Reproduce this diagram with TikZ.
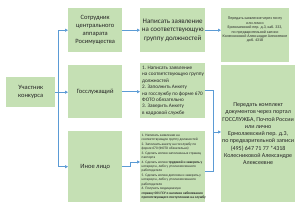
\documentclass[tikz,border=0pt]{standalone}
\usepackage{fontspec}
\setmainfont{Carlito}
\usetikzlibrary{arrows.meta}
\definecolor{boxg}{HTML}{C5E0B4}
\definecolor{lineb}{HTML}{5B9BD5}
\definecolor{txt}{HTML}{262626}
\tikzset{
  box/.style={fill=boxg, draw=none, inner sep=1pt, anchor=north west, text=txt, align=center},
  listtext/.style={text=txt, align=left, inner sep=0pt, anchor=west},
  conn/.style={draw=lineb, line width=0.6pt, -{Triangle[length=3pt,width=3pt]}},
  plain/.style={draw=lineb, line width=0.6pt},
}
\begin{document}
\begin{tikzpicture}[x=1pt,y=-1pt]
\useasboundingbox[fill=white] (0,0) rectangle (300,211);
% column 1
\node[box, minimum width=49pt, minimum height=30pt, font=\fontsize{6.5}{8}\selectfont] (u) at (6,77) {Участник\\конкурса};
% column 2
\node[box, minimum width=54pt, minimum height=44pt, font=\fontsize{6.5}{8}\selectfont] (s) at (68,8) {Сотрудник\\центрального\\аппарата\\Росимущества};
\node[box, minimum width=54pt, minimum height=53pt, font=\fontsize{6.5}{8}\selectfont] (g) at (68,65) {Госслужащий};
\node[box, minimum width=54pt, minimum height=71pt, font=\fontsize{6.5}{8}\selectfont] (i) at (68,131) {Иное лицо};
% column 3
\node[box, minimum width=65pt, minimum height=44pt, font=\fontsize{7}{8.3}\selectfont] (n) at (140,8) {Написать заявление\\на соответствующую\\группу должностей};
\node[box, minimum width=65pt, minimum height=55pt] (l2) at (140,63) {};
\node[listtext, font=\fontsize{5.2}{6.4}\selectfont] (l2t) at ([xshift=2pt]l2.west) {1. Написать заявление\\на соответствующую группу\\должностей\\2. Заполнить Анкету\\на госслужбу по форме 670\\ФОТО обязательно\\3. Заверить Анкету\\в кадровой службе};
\node[box, minimum width=65pt, minimum height=71pt] (l3) at (140,131) {};
\node[listtext, font=\fontsize{3.5}{4.45}\selectfont] (l3t) at ([xshift=1.5pt]l3.west) {1. Написать заявление на\\соответствующую группу должностей\\2. Заполнить анкету на госслужбу по\\форме 670 (ФОТО обязательно)\\3. Сделать копию заполненных страниц\\паспорта\\4. Сделать копию \textbf{трудовой и заверить у}\\нотариуса, либо у уполномоченного\\работодателя\\5. Сделать копию диплома и заверить у\\нотариуса, либо у уполномоченного\\работодателя\\6. Получить медицинскую\\\textbf{справку 001 ГСУ о наличии заболевания}\\\textbf{препятствующего поступлению на службу}};
% column 4
\node[box, minimum width=68pt, minimum height=54pt] (p1) at (221,8) {};
\node[text=txt, align=center, inner sep=0pt, font=\fontsize{3.9}{4.4}\selectfont] (p1t) at (255,30) {Передать заявление через почту\\или лично\\Ермолаевский пер. д.3, каб. 333,\\по предварительной записи\\Колесниковой Александре Алексеевне\\доб. 4318};
\node[box, minimum width=68pt, minimum height=137pt, font=\fontsize{6}{7.3}\selectfont] (p2) at (221,65) {Передать комплект\\документов через портал\\ГОССЛУЖБА, Почтой России\\или лично\\Ермолаевский пер. д.3,\\по предварительной записи\\(495) 647 71 77 *4318\\Колесниковой Александре\\Алексеевне};
% connectors
\coordinate (trunk) at ([xshift=3pt]u.east);
\draw[conn] (u.east) -- (g.west |- u.east);
\draw[conn] (trunk) |- (s.west);
\draw[conn] (trunk) |- (i.west);
\draw[conn] (s.east) -- (n.west);
\draw[conn] (n.east) -- (p1.west |- n.east);
\draw[conn] (g.east) -- (l2.west |- g.east);
\coordinate (ielb) at (130,162);
\draw[conn] (i.east) -| (ielb) -- (l3.west |- ielb);
\coordinate (merge) at (213,132);
\draw[plain] (l2.east) -| (merge);
\draw[plain] ([yshift=-4.5pt]l3.east) -| (merge);
\draw[conn] (merge) -- (p2.west |- merge);
\end{tikzpicture}
\end{document}
